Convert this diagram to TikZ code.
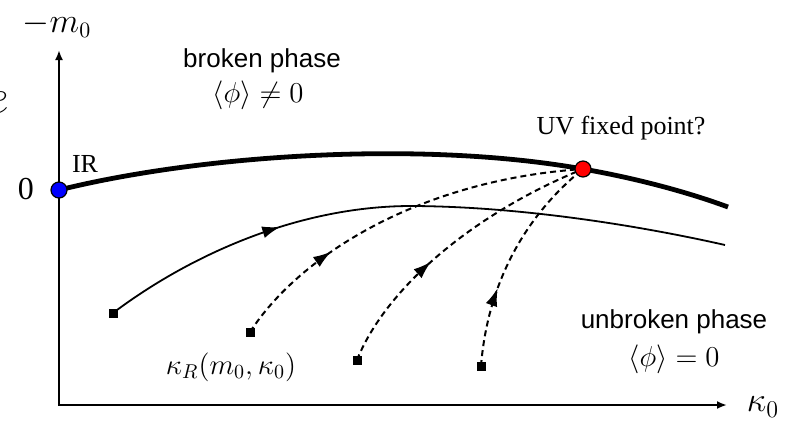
\documentclass[tikz,border=0pt]{standalone}
\usepackage{fontspec}
\setmainfont{Liberation Serif}
\newfontfamily\arialfont{Liberation Sans}
\usetikzlibrary{arrows.meta,decorations.markings}
\begin{document}
\begin{tikzpicture}[x=0.5pt,y=-0.5pt,
  axis/.style={line width=1.2pt,line cap=rect,-{Latex[length=5pt,width=4pt]}},
  ridge/.style={line width=2.4pt},
  flow/.style={line width=0.9pt},
  dflow/.style={line width=1pt,dash pattern=on 3pt off 2pt},
  marker/.style={rectangle,fill=black,minimum size=4.5pt,inner sep=0pt},
  fp/.style={circle,draw=black,line width=0.6pt,minimum size=8pt,inner sep=0pt},
  midarrow/.style={postaction={decorate},decoration={markings,mark=at position #1 with {\arrow{Latex[length=9pt,width=6pt]}}}},
  sanslabel/.style={font=\arialfont\fontsize{13}{15}\selectfont,inner sep=0pt},
  seriflabel/.style={font=\fontsize{13}{15}\selectfont,inner sep=0pt},
  mathlabel/.style={font=\fontsize{14.5}{17}\selectfont,inner sep=0pt}]
\useasboundingbox (0,0) rectangle (790,424);

% axes
\coordinate (O) at (59,405);
\coordinate (ytop) at (59,50);
\coordinate (xend) at (727,405);
\draw[axis] (O) -- (ytop);
\draw[axis] (O) -- (xend);

% key points
\coordinate (irc) at (59,190);
\coordinate (uvc) at (583,169);
\coordinate (ridgeend) at (728,207);
\coordinate (flowpeak) at (415,206);
\coordinate (flowend) at (725,245);

% start markers
\node[marker] (s1) at (113,313) {};
\node[marker] (s2) at (250,332) {};
\node[marker] (s3) at (357,360) {};
\node[marker] (s4) at (481,366) {};

% phase boundary
\draw[ridge] (irc) .. controls (200,155) and (420,140) .. (uvc)
  .. controls (640,179) and (690,193) .. (ridgeend);

% solid RG trajectory
\draw[flow,midarrow=0.58] (s1.center) .. controls (190,255) and (300,205) .. (flowpeak);
\draw[flow] (flowpeak) .. controls (530,207) and (650,228) .. (flowend);

% dashed trajectories
\draw[dflow,midarrow=0.3] (s2.center) .. controls (300,255) and (420,180) .. (uvc);
\draw[dflow,midarrow=0.41] (s3.center) .. controls (385,290) and (470,215) .. (uvc);
\draw[dflow,midarrow=0.35] (s4.center) .. controls (487,290) and (520,220) .. (uvc);

% fixed points
\node[fp,fill=blue] (ir) at (irc) {};
\node[fp,fill=red] (uv) at (uvc) {};

% labels
\node[mathlabel,font=\fontsize{16}{19}\selectfont] (ylab) at (57,25) {$-m_0$};
\node[mathlabel,font=\fontsize{17}{20}\selectfont] (xlab) at (763,407) {$\kappa_0$};
\node[mathlabel,font=\fontsize{24}{28}\selectfont,anchor=east] (frag) at (9,103) {$e$};
\node[sanslabel] (bp) at (262,61) {broken phase};
\node[mathlabel] (bpv) at (258,95) {$\langle\phi\rangle \neq 0$};
\node[sanslabel] (ubp) at (674,322) {unbroken phase};
\node[mathlabel] (ubpv) at (674,359) {$\langle\phi\rangle = 0$};
\node[seriflabel] (uvlab) at (621,128) {UV fixed point?};
\node[seriflabel] (irlab) at (85,164) {IR};
\node[seriflabel,font=\fontsize{16}{19}\selectfont] (zero) at (26,189) {0};
\node[mathlabel] (kr) at (231,367) {$\kappa_R(m_0,\kappa_0)$};
\end{tikzpicture}
\end{document}
